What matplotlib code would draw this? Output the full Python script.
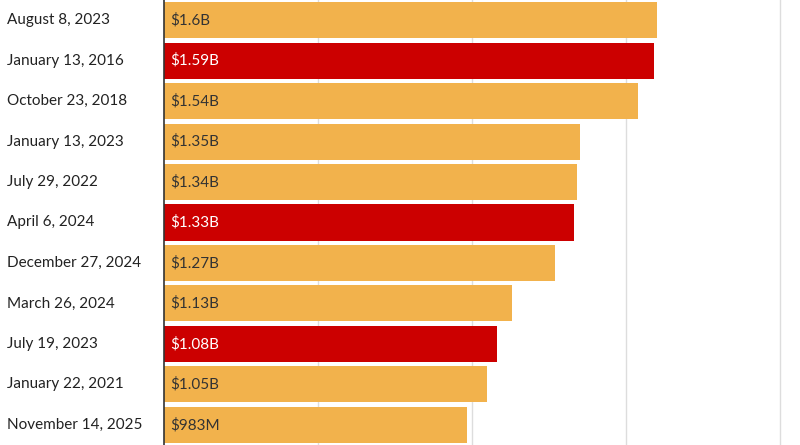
import matplotlib.pyplot as plt

fechas = ["August 8, 2023", "January 13, 2016", "October 23, 2018", "January 13, 2023",
          "July 29, 2022", "April 6, 2024", "December 27, 2024", "March 26, 2024",
          "July 19, 2023", "January 22, 2021", "November 14, 2025"]
valores = [1.6, 1.59, 1.54, 1.35, 1.34, 1.33, 1.27, 1.13, 1.08, 1.05, 0.983]
etiquetas = ["$1.6B", "$1.59B", "$1.54B", "$1.35B", "$1.34B", "$1.33B", "$1.27B",
             "$1.13B", "$1.08B", "$1.05B", "$983M"]
destacados = [False, True, False, False, False, True, False, False, True, False, False]

NARANJA = "#F2B24C"
ROJO = "#CC0000"

plt.rcParams['font.family'] = ['Lato', 'DejaVu Sans']
fig = plt.figure(figsize=(8, 4.45), dpi=100)
ax = fig.add_axes([164 / 800, 0, 1 - 164 / 800, 1])

y = list(range(len(valores)))
colores = [ROJO if d else NARANJA for d in destacados]
ax.barh(y, valores, height=0.89, color=colores, zorder=2)

for i, (v, t, d) in enumerate(zip(valores, etiquetas, destacados)):
    ax.text(0.02, i, t.replace("$", r"\$"), va="center", ha="left", fontsize=11,
            color="white" if d else "#333333", zorder=3)
    ax.text(-0.51, i, fechas[i], va="center", ha="left", fontsize=11, color="#222222",
            clip_on=False)

ax.set_xlim(0, 2.065)
ax.set_ylim(len(valores) - 0.5, -0.5)
ax.set_xticks([0.5, 1.0, 1.5, 2.0])
ax.grid(axis="x", color="#dddddd", linewidth=1, zorder=0)
ax.set_xticklabels([])
ax.set_yticks([])
ax.tick_params(length=0)
for s in ["top", "right", "bottom"]:
    ax.spines[s].set_visible(False)
ax.spines["left"].set_color("#333333")
ax.spines["left"].set_linewidth(1.2)
ax.spines["left"].set_zorder(4)

fig.savefig("out.png", dpi=100)
